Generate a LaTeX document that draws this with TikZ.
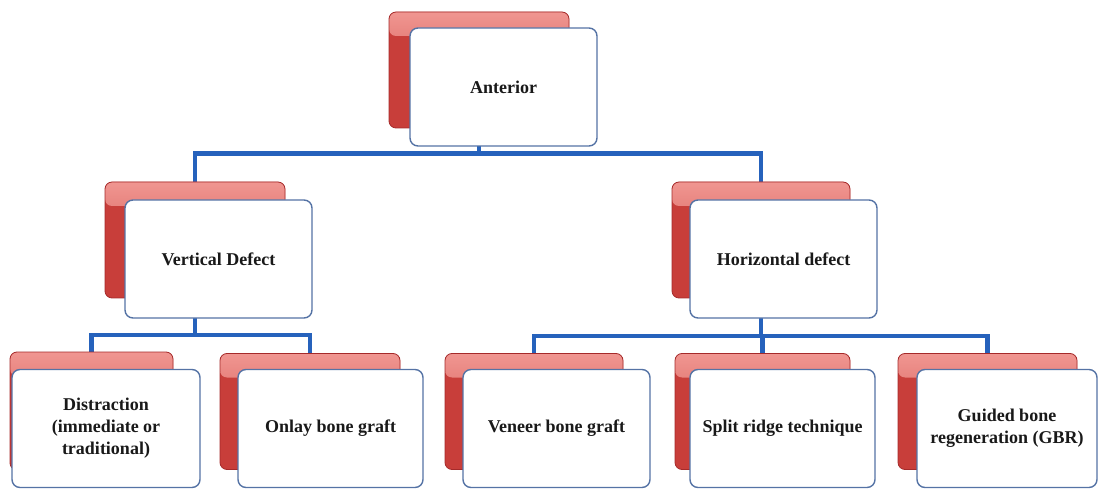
\documentclass[tikz,border=0pt]{standalone}
\usepackage{fontspec}
\setmainfont{Liberation Serif}
\usetikzlibrary{calc}
\pgfdeclarelayer{background}
\pgfsetlayers{background,main}
\definecolor{connblue}{RGB}{38,98,188}
\definecolor{backtop}{RGB}{240,150,145}
\definecolor{backred}{RGB}{200,62,58}
\definecolor{backedge}{RGB}{165,42,42}
\definecolor{frontedge}{RGB}{85,115,165}
\definecolor{textdark}{RGB}{25,25,25}
\begin{document}
\begin{tikzpicture}[x=1pt,y=-1pt,
  back/.style={rectangle, rounded corners=7pt, minimum width=180pt, minimum height=116pt,
    inner sep=0pt, draw=backedge, line width=0.8pt, fill=backred,
    path picture={\shade[top color=backtop, bottom color=backred]
      (path picture bounding box.north west) rectangle
      ([yshift=-24pt]path picture bounding box.north east);}},
  front/.style={rectangle, rounded corners=8pt, minimum width=187pt, minimum height=118pt,
    inner sep=0pt, draw=frontedge, line width=1.4pt, fill=white, align=center,
    font=\fontsize{18}{22}\selectfont\bfseries, text=textdark},
  conn/.style={draw=connblue, line width=4.5pt, line join=miter}]
\useasboundingbox (0,0) rectangle (1101,489);

% level 1
\node[back] (antR) at (479,70) {};
\node[front] (antW) at (503.5,87) {Anterior};

% level 2
\node[back] (vdR) at (195,240) {};
\node[front] (vdW) at (218.5,259) {Vertical Defect};
\node[back, minimum width=178pt] (hdR) at (761,240) {};
\node[front] (hdW) at (783.5,259) {Horizontal defect};

% level 3
\node[back, minimum width=163pt, minimum height=118pt] (distR) at (91.5,411) {};
\node[front, minimum width=188pt] (distW) at (106,428.5) {Distraction\\(immediate or\\traditional)};
\node[back] (onlR) at (310,411.5) {};
\node[front, minimum width=185pt] (onlW) at (330.5,428.5) {Onlay bone graft};
\node[back, minimum width=178pt] (venR) at (534,411.5) {};
\node[front] (venW) at (556.5,428.5) {Veneer bone graft};
\node[back, minimum width=175pt] (splR) at (762.5,411.5) {};
\node[front, minimum width=185pt] (splW) at (782.5,428.5) {Split ridge technique};
\node[back, minimum width=179pt] (gbrR) at (987.5,411.5) {};
\node[front, minimum width=180pt] (gbrW) at (1007,428.5) {Guided bone\\regeneration (GBR)};

% connectors
\begin{pgfonlayer}{background}
\coordinate (j1) at ($(antW.south)!0.2!(vdR.north)$);
\coordinate (j2) at ($(vdW.south)!0.5!(distR.north)$);
\coordinate (j3) at ($(hdW.south)!0.5!(venR.north)$);
\draw[conn] (antR.center) -- (antR.center |- j1) -| (vdR.center);
\draw[conn] (antR.center |- j1) -| (hdR.center);
\draw[conn] (vdR.center) -- (vdR.center |- j2) -| (distR.center);
\draw[conn] (vdR.center |- j2) -| (onlR.center);
\draw[conn] (hdR.center) -- (hdR.center |- j3) -| (venR.center);
\draw[conn] (hdR.center |- j3) -| (splR.center);
\draw[conn] (hdR.center |- j3) -| (gbrR.center);
\end{pgfonlayer}
\end{tikzpicture}
\end{document}
